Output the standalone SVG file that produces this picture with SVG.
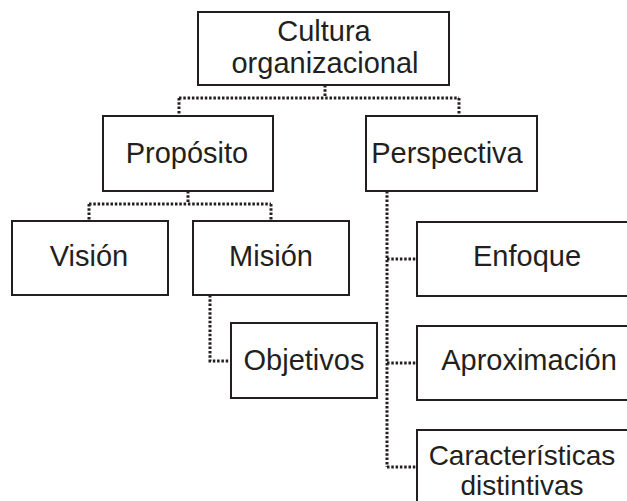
<svg xmlns="http://www.w3.org/2000/svg" width="627" height="501" viewBox="0 0 627 501">
<style>
.box{fill:#fff;stroke:#231f20;stroke-width:2}
.t{font-family:"Liberation Sans",Arial,sans-serif;font-size:29px;fill:#231f20;text-anchor:middle}
.s{font-size:28px}
.c{fill:none;stroke:#231f20;stroke-width:3;stroke-dasharray:2.5 1.8}
</style>
<rect width="627" height="501" fill="#fff"/>
<g id="connectors">
<path class="c" d="M325 85V98M179 98H459M179 98V116M459 98V116"/>
<path class="c" d="M188 191V204M89 204H271M89 204V221M271 204V221"/>
<path class="c" d="M210 295V361H231"/>
<path class="c" d="M387 191V467M387 259H417M387 363H417M387 467H417"/>
</g>
<g id="cultura"><rect class="box" x="198" y="12" width="251" height="73"/><text class="t" x="324" y="41">Cultura</text><text class="t" x="325" y="73">organizacional</text></g>
<g id="proposito"><rect class="box" x="103" y="116" width="170" height="75"/><text class="t" x="187" y="163">Propósito</text></g>
<g id="perspectiva"><rect class="box" x="366" y="116" width="171" height="75"/><text class="t" x="447" y="163">Perspectiva</text></g>
<g id="vision"><rect class="box" x="12" y="221" width="156" height="74"/><text class="t" x="89" y="266">Visión</text></g>
<g id="mision"><rect class="box" x="193" y="221" width="156" height="74"/><text class="t" x="271" y="266">Misión</text></g>
<g id="objetivos"><rect class="box" x="231" y="323" width="146" height="75"/><text class="t" x="304" y="370">Objetivos</text></g>
<g id="enfoque"><rect class="box" x="417" y="222" width="230" height="74"/><text class="t" x="527" y="266">Enfoque</text></g>
<g id="aproximacion"><rect class="box" x="417" y="326" width="230" height="74"/><text class="t" x="529" y="370">Aproximación</text></g>
<g id="caracteristicas"><rect class="box" x="417" y="430" width="230" height="90"/><text class="t s" x="522" y="465">Características</text><text class="t s" x="522" y="495">distintivas</text></g>
</svg>
